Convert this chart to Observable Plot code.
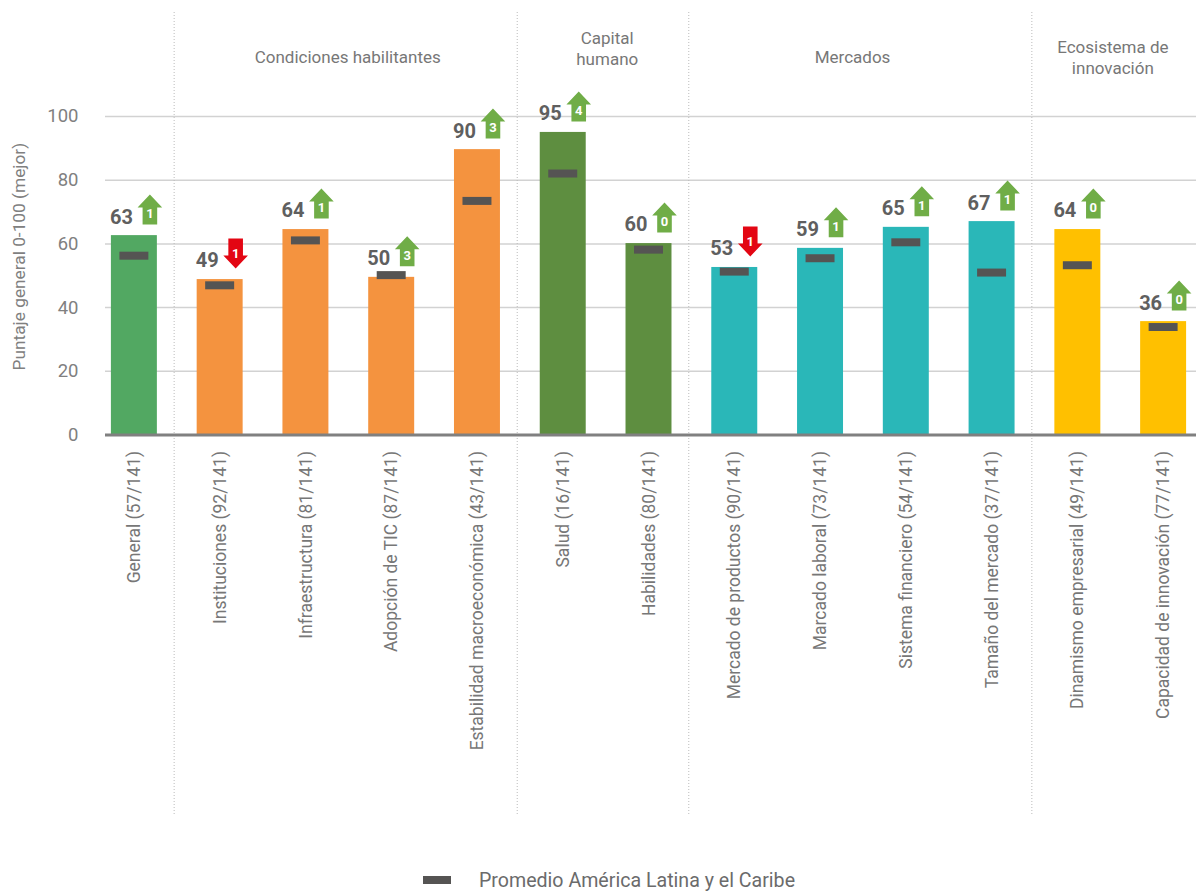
<!DOCTYPE html>
<html lang="es">
<head>
<meta charset="utf-8">
<script src="https://cdn.jsdelivr.net/npm/d3@7"></script>
<script src="https://cdn.jsdelivr.net/npm/@observablehq/plot@0.6"></script>
<style>
  html, body { margin: 0; padding: 0; background: #fff; }
  svg { display: block; }
  #legend { display: flex; align-items: center; height: 40px; margin-top: 44px; padding-left: 423px;
    font: 19.6px Roboto, sans-serif; color: #6b6b6b; }
  #legend i { display: inline-block; width: 28px; height: 8px; background: #555453; margin-right: 28px; }
</style>
</head>
<body>
<div id="chart"></div>
<div id="legend"><i></i><span id="legend-text"></span></div>
<script>
const categories = ["General (57/141)", "Instituciones (92/141)", "Infraestructura (81/141)", "Adopción de TIC (87/141)", "Estabilidad macroeconómica (43/141)", "Salud (16/141)", "Habilidades (80/141)", "Mercado de productos (90/141)", "Marcado laboral (73/141)", "Sistema financiero (54/141)", "Tamaño del mercado (37/141)", "Dinamismo empresarial (49/141)", "Capacidad de innovación (77/141)"];
const scores = [62.6, 48.8, 64.5, 49.5, 89.6, 95, 60.1, 52.6, 58.6, 65.2, 67, 64.5, 35.6];
const labels = [63, 49, 64, 50, 90, 95, 60, 53, 59, 65, 67, 64, 36];
const averages = [56.3, 47, 61.1, 50.2, 73.5, 82.1, 58.2, 51.3, 55.5, 60.5, 51, 53.3, 33.9];
const changes = [1, -1, 1, 3, 3, 4, 0, -1, 1, 1, 1, 0, 0];
const groups = ["General", "Condiciones", "Condiciones", "Condiciones", "Condiciones", "Capital", "Capital", "Mercados", "Mercados", "Mercados", "Mercados", "Ecosistema", "Ecosistema"];
const groupNames = ["General", "Condiciones", "Capital", "Mercados", "Ecosistema"];
const groupColors = ["#52A862", "#F4933F", "#5E8E40", "#2AB7B8", "#FFC000"];
const dividers = ["Instituciones (92/141)", "Salud (16/141)", "Mercado de productos (90/141)", "Dinamismo empresarial (49/141)"];
const yTicks = [0, 20, 40, 60, 80, 100];
const gridTicks = [20, 40, 60, 80, 100];
const yTitle = "Puntaje general 0-100 (mejor)";
const legendLabel = "Promedio América Latina y el Caribe";

const rows = categories.map((category, i) => ({
  category, score: scores[i], label: labels[i], average: averages[i],
  change: changes[i], group: groups[i]
}));
const ups = rows.filter(d => d.change >= 0);
const downs = rows.filter(d => d.change < 0);

// Block arrows drawn relative to the symbol's radius
const arrow = dir => ({
  draw(ctx, size) {
    const r = Math.sqrt(size / Math.PI);
    const u = r / 15;
    const pts = [[0, -15], [12.3, -2], [7.3, -2], [7.3, 15], [-7.3, 15], [-7.3, -2], [-12.3, -2]];
    pts.forEach(([x, y], i) => {
      const Y = dir * y * u, X = x * u;
      i ? ctx.lineTo(X, Y) : ctx.moveTo(X, Y);
    });
    ctx.closePath();
  }
});

const font = "Roboto, sans-serif";
const arrowDx = 15.5, arrowDy = -26, labelDx = -13, labelDy = -18.5;

const groupTitle = (text, category, dx, dy) => Plot.text([text], {
  x: () => category, frameAnchor: "top", dx, dy, text: d => d,
  fontSize: 17, fontFamily: font, fill: "#777", lineHeight: 1.25
});

const chart = Plot.plot({
  width: 1196, height: 816,
  marginLeft: 105, marginRight: 0, marginTop: 12, marginBottom: 1,
  style: { background: "#fff", fontFamily: font },
  x: { domain: categories, range: [91, 1206], paddingInner: 0.464, paddingOuter: 0.232, round: false, axis: null },
  y: { domain: [0, 100], range: [434.5, 116], axis: null },
  color: { domain: groupNames, range: groupColors, legend: false },
  marks: [
    Plot.ruleY(gridTicks, { stroke: "#d2d2d2", strokeWidth: 1.5 }),
    Plot.ruleX(dividers, { x: d => d, dx: -46, stroke: "#bbb", strokeWidth: 1, strokeDasharray: "1,2" }),
    Plot.barY(rows, { x: "category", y: "score", fill: "group" }),
    Plot.ruleY([0], { stroke: "#808080", strokeWidth: 3 }),
    Plot.tickY(rows, { x: "category", y: "average", stroke: "#555453", strokeWidth: 8, insetLeft: 8.5, insetRight: 8.5 }),
    Plot.text(rows, { x: "category", y: "score", text: d => String(d.label), dx: labelDx, dy: labelDy,
      fontSize: 20, fontWeight: 700, fill: "#5f5f5f", fontFamily: font }),
    Plot.dot(ups, { x: "category", y: "score", dx: arrowDx, dy: arrowDy, r: 15, symbol: arrow(1), fill: "#70AD47", stroke: "none" }),
    Plot.dot(downs, { x: "category", y: "score", dx: arrowDx, dy: arrowDy, r: 15, symbol: arrow(-1), fill: "#E30613", stroke: "none" }),
    Plot.text(ups, { x: "category", y: "score", text: d => String(Math.abs(d.change)), dx: arrowDx, dy: arrowDy + 4.5,
      fontSize: 13, fontWeight: 700, fill: "#fff", fontFamily: font }),
    Plot.text(downs, { x: "category", y: "score", text: d => String(Math.abs(d.change)), dx: arrowDx, dy: arrowDy,
      fontSize: 13, fontWeight: 700, fill: "#fff", fontFamily: font }),
    Plot.text(rows, { x: "category", y: () => 0, text: "category", rotate: -90, textAnchor: "end", dy: 16,
      fontSize: 17.5, fill: "#777", fontFamily: font }),
    Plot.axisY(yTicks, { anchor: "left", tickSize: 0, tickPadding: 27, label: null, fontSize: 18.5, fill: "#808080", fontFamily: font }),
    Plot.text([yTitle], { y: () => 56, frameAnchor: "left", textAnchor: "middle", dx: -86, rotate: -90, text: d => d,
      fontSize: 17.3, fill: "#808080", fontFamily: font }),
    groupTitle("Condiciones habilitantes", categories[3], -44, 35),
    groupTitle("Capital\nhumano", categories[5], 44, 16),
    groupTitle("Mercados", categories[8], 32, 35),
    groupTitle("Ecosistema de\ninnovación", categories[11], 35, 25)
  ]
});
document.getElementById("chart").append(chart);
document.getElementById("legend-text").textContent = legendLabel;
</script>
</body>
</html>
